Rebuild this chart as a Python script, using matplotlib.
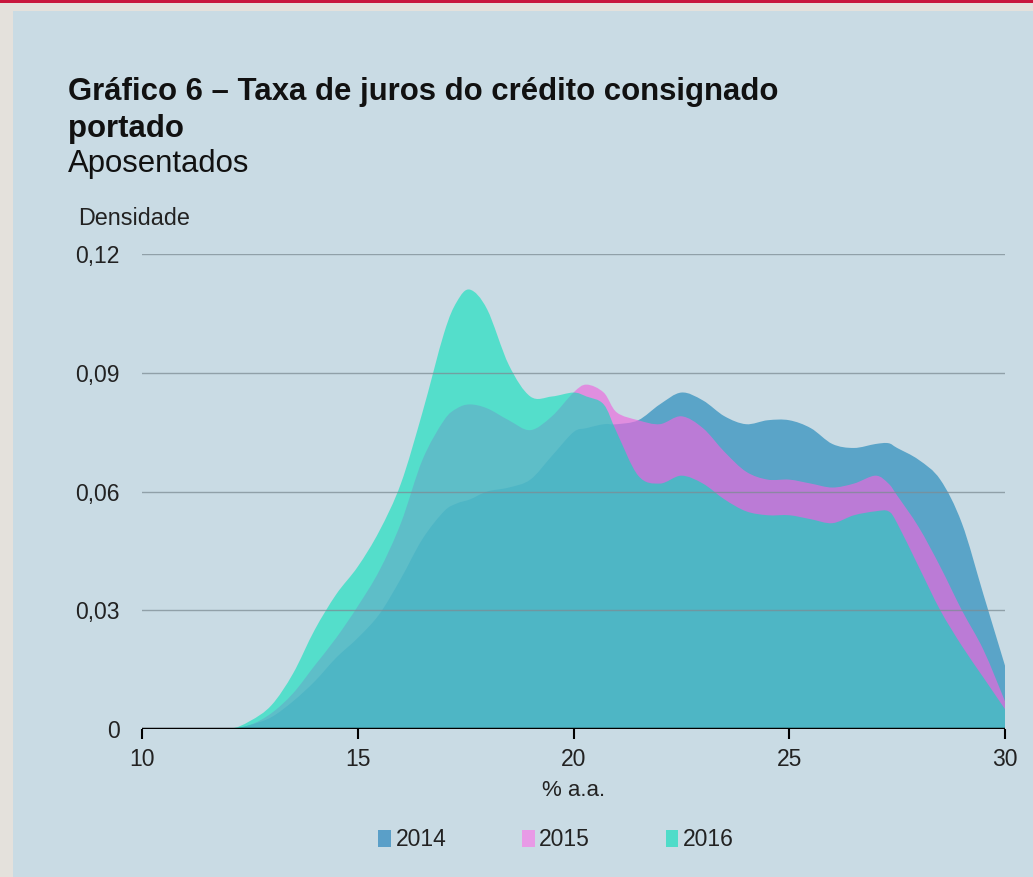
import matplotlib
matplotlib.use("Agg")
import matplotlib.pyplot as plt
from matplotlib.patches import Rectangle, Patch, PathPatch
from matplotlib.path import Path

plt.rcParams['font.family'] = ['Liberation Sans', 'DejaVu Sans']

# dados (% a.a. x densidade)
taxa = [10, 11, 12, 12.5, 13, 13.5, 14, 14.5, 15, 15.5, 16, 16.5, 17, 17.3, 17.6, 18, 18.5, 19,
        19.5, 20, 20.3, 20.7, 21, 21.5, 22, 22.5, 23, 23.5, 24, 24.5, 25, 25.5, 26, 26.5,
        27, 27.3, 27.5, 28, 28.5, 29, 29.5, 30]
dens_2014 = [0, 0, 0, 0.001, 0.003, 0.007, 0.012, 0.018, 0.023, 0.029, 0.038, 0.048, 0.055, 0.057,
             0.058, 0.060, 0.061, 0.063, 0.069, 0.075, 0.076, 0.077, 0.077, 0.078, 0.082, 0.085,
             0.083, 0.079, 0.077, 0.078, 0.078, 0.076, 0.072, 0.071, 0.072, 0.0722, 0.071, 0.068,
             0.063, 0.052, 0.034, 0.016]
dens_2015 = [0, 0, 0, 0.001, 0.004, 0.009, 0.016, 0.023, 0.031, 0.040, 0.052, 0.068, 0.078, 0.081,
             0.082, 0.081, 0.078, 0.0755, 0.079, 0.085, 0.087, 0.085, 0.080, 0.078, 0.077, 0.079,
             0.076, 0.070, 0.065, 0.063, 0.063, 0.062, 0.061, 0.062, 0.064, 0.062, 0.059, 0.051,
             0.041, 0.030, 0.020, 0.007]
dens_2016 = [0, 0, 0, 0.002, 0.006, 0.014, 0.025, 0.034, 0.041, 0.050, 0.062, 0.080, 0.100, 0.108,
             0.111, 0.106, 0.092, 0.084, 0.084, 0.085, 0.084, 0.082, 0.075, 0.064, 0.062, 0.064,
             0.062, 0.058, 0.055, 0.054, 0.054, 0.053, 0.052, 0.054, 0.055, 0.055, 0.052, 0.041,
             0.030, 0.021, 0.013, 0.005]

xticks = [10, 15, 20, 25, 30]
yticks = [0, 0.03, 0.06, 0.09, 0.12]
ytick_labels = ['0', '0,03', '0,06', '0,09', '0,12']


def smooth_area(ax, x, y, **kw):
    # curva suave (Catmull-Rom -> Bezier) passando pelos pontos lidos
    n = len(x)
    verts = [(x[0], 0), (x[0], y[0])]
    codes = [Path.MOVETO, Path.LINETO]
    for i in range(n - 1):
        i0, i2 = max(i - 1, 0), min(i + 2, n - 1)
        c1 = (x[i] + (x[i + 1] - x[i0]) / 6, max(y[i] + (y[i + 1] - y[i0]) / 6, 0))
        c2 = (x[i + 1] - (x[i2] - x[i]) / 6, max(y[i + 1] - (y[i2] - y[i]) / 6, 0))
        verts += [c1, c2, (x[i + 1], y[i + 1])]
        codes += [Path.CURVE4] * 3
    verts += [(x[-1], 0), (x[0], 0)]
    codes += [Path.LINETO, Path.CLOSEPOLY]
    ax.add_patch(PathPatch(Path(verts, codes), lw=0, **kw))


fig = plt.figure(figsize=(10.33, 8.77), dpi=100)
fig.patch.set_facecolor('#e4e1dc')
fig.patches.append(Rectangle((13/1033, 0), 1, 1 - 11/877, transform=fig.transFigure,
                             facecolor='#c9dbe4', edgecolor='none', zorder=-2))
fig.patches.append(Rectangle((0, 1 - 3/877), 1, 3/877, transform=fig.transFigure,
                             facecolor='#c8163c', edgecolor='none', zorder=-2))

ax = fig.add_axes([142/1033, 1 - 729/877, 863/1033, 475/877])
ax.set_zorder(2)
ax.set_facecolor('none')

smooth_area(ax, taxa, dens_2014, facecolor='#5aa4c8', zorder=1)
smooth_area(ax, taxa, dens_2015, facecolor='#ec68de', alpha=0.67, zorder=2)
smooth_area(ax, taxa, dens_2016, facecolor='#00e1b9', alpha=0.58, zorder=3)

for y in yticks[1:]:
    ax.axhline(y, color='#7d8c94', lw=1.0, alpha=0.75, zorder=4)
ax.axhline(0, color='black', lw=2.5, zorder=5)

ax.set_xlim(10, 30)
ax.set_ylim(0, 0.12)
ax.set_xticks(xticks)
ax.set_yticks(yticks)
ax.set_yticklabels(ytick_labels)
for s in ax.spines.values():
    s.set_visible(False)
ax.tick_params(axis='y', length=0, pad=16, labelsize=16.5, labelcolor='#222222')
ax.tick_params(axis='x', length=7, width=1.5, direction='out', pad=7, labelsize=16.5,
               labelcolor='#222222')
ax.set_xlabel('% a.a.', fontsize=16, color='#222222', labelpad=6)

fig.text(68/1033, 1 - 100/877, 'Gráfico 6 – Taxa de juros do crédito consignado',
         fontsize=22.4, fontweight='bold', color='#111111', va='baseline')
fig.text(68/1033, 1 - 137/877, 'portado', fontsize=22.4, fontweight='bold',
         color='#111111', va='baseline')
fig.text(68/1033, 1 - 172/877, 'Aposentados', fontsize=22.4, color='#111111', va='baseline')
fig.text(78/1033, 1 - 225/877, 'Densidade', fontsize=16.8, color='#222222', va='baseline')

handles = [Patch(facecolor='#5a9fc8', label='2014'),
           Patch(facecolor='#e89ae6', label='2015'),
           Patch(facecolor='#4fdcc9', label='2016')]
fig.legend(handles=handles, loc='center', bbox_to_anchor=(556/1033, 1 - 840/877), ncol=3,
           frameon=False, fontsize=16.5, handlelength=0.55, handleheight=0.7,
           handletextpad=0.2, columnspacing=3.3, labelcolor='#222222')

fig.savefig('out.png', dpi=100, facecolor=fig.get_facecolor())
